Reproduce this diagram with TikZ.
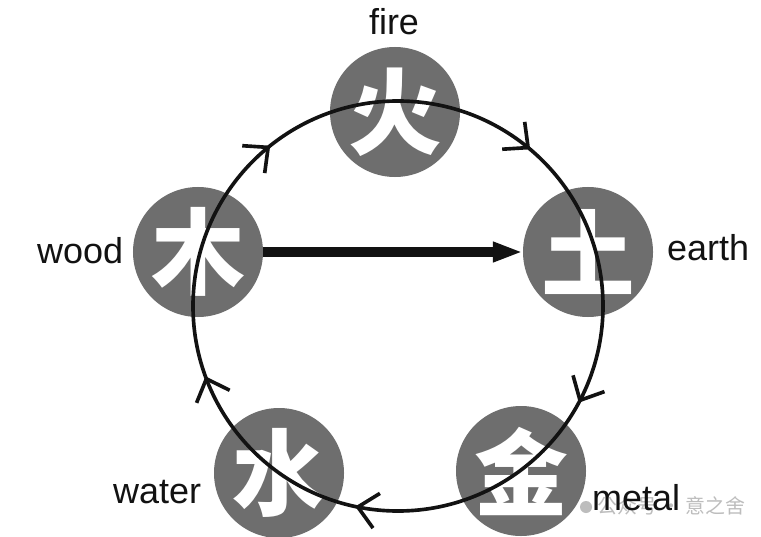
\documentclass[tikz,border=0pt]{standalone}
\usepackage{fontspec}
\setmainfont{Liberation Sans}
\newfontfamily\cjk{Noto Sans CJK SC}
\usetikzlibrary{arrows.meta}
\definecolor{disc}{gray}{0.43}
\definecolor{wm}{gray}{0.74}
\definecolor{ink}{gray}{0.07}
\begin{document}
\begin{tikzpicture}[x=0.03cm,y=0.03cm,
  elem/.style={circle, fill=disc, minimum size=3.9cm, inner sep=0pt, text=white,
    font=\cjk\bfseries\fontsize{80}{80}\selectfont},
  lbl/.style={font=\fontsize{30.7}{36}\selectfont, text=ink, inner sep=0pt},
  ring/.style={draw=ink, line width=3.1pt},
  barbline/.style={draw=ink, line width=3.1pt, line cap=butt, line join=miter},
  bigarrow/.style={draw=ink, line width=8.5pt, -{Triangle[length=25.6pt,width=16pt]}},
  wmark/.style={font=\cjk\fontsize{17}{17}\selectfont, text=wm, inner sep=0pt},
]
\useasboundingbox (0,0) rectangle (761,-537);
\fill[white] (0,0) rectangle (761,-537);

% watermark (behind)
\node[wmark, anchor=base west] (wmtext) at (597,-513) {公众号 · 意之舍};

% element discs
\node[elem] (fire)  at (395,-112) {火};
\node[elem] (earth) at (588,-252) {土};
\node[elem] (metal) at (521,-471) {金};
\node[elem] (water) at (279,-473) {水};
\node[elem] (wood)  at (198,-252) {木};

\node[circle, fill=wm, minimum size=0.36cm, inner sep=0pt] (wmicon) at (586,-507) {};

% generating cycle
\coordinate (C) at (398,-306);
\draw[ring] (C) circle[radius=6.15cm];
\foreach \a in {129.3,50.6,-27.4,-101.3,200.8}{
  \begin{scope}[shift={(C)}, rotate=\a]
    \draw[barbline] (187.3,19) -- (205,0) -- (222.7,19);
  \end{scope}}

% straight arrow wood -> earth
\draw[bigarrow] (wood.east) -- (earth.west);

% labels
\node[lbl, anchor=base] (lfire) at (394,-35) {fire};
\node[lbl, anchor=base west] (learth) at (667,-260) {earth};
\node[lbl, anchor=base west] (lmetal) at (592,-510) {metal};
\node[lbl, anchor=base west] (lwater) at (113,-503) {water};
\node[lbl, anchor=base west] (lwood) at (37,-263) {wood};
\end{tikzpicture}
\end{document}
